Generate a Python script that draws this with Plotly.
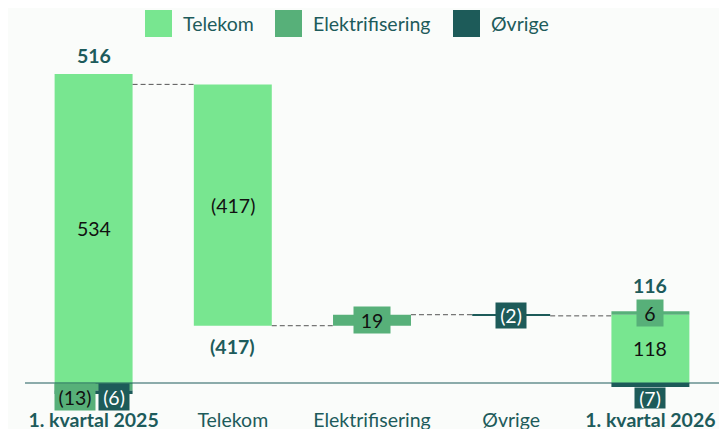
import plotly.graph_objects as go

# ---------------- data ----------------
categories = ["1. kvartal 2025", "Telekom", "Elektrifisering", "Øvrige", "1. kvartal 2026"]
segments = ["Telekom", "Elektrifisering", "Øvrige"]
start_values = [534, -13, -6]      # 1. kvartal 2025 per segment
change_values = [-417, 19, -2]     # bridge changes per segment
end_values = [118, 6, -7]          # 1. kvartal 2026 per segment
start_total = 516
end_total = 116

# ---------------- style ----------------
seg_colors = {"Telekom": "#78e690", "Elektrifisering": "#57b079", "Øvrige": "#1d5b59"}
label_font_color = {"Telekom": "#111111", "Elektrifisering": "#111111", "Øvrige": "#ffffff"}
teal = "#1d5b5b"
bg = "#fafcfa"
FONT = "Lato"
FS = 19.5

OFF = 8  # page body margin
W, H = 727 - OFF, 429 - OFF
ML, MR, MT, MB = 16, 7, 32, 23
PW, PH = W - ML - MR, H - MT - MB
ZERO_PX = 383 - OFF
SCALE = 0.5787  # px per unit
ymax = (ZERO_PX - MT) / SCALE
ymin = -(H - MB - ZERO_PX) / SCALE
BW = 0.56


def fmt(v):
    return f"({abs(v)})" if v < 0 else f"{v}"


def px_x(p):  # reference screen px -> paper
    return (p - OFF - ML) / PW


def px_y(p):
    return (H - MB - (p - OFF)) / PH


fig = go.Figure()
annotations = []
shapes = []

bars = {s: {"x": [], "y": [], "base": []} for s in segments}


def stacked(cat_idx, values):
    pos, neg = 0, 0
    for s, v in zip(segments, values):
        if v >= 0:
            b = pos
            pos += v
        else:
            b = neg
            neg += v
        bars[s]["x"].append(categories[cat_idx])
        bars[s]["y"].append(v)
        bars[s]["base"].append(b)


stacked(0, start_values)

levels = [start_total]
bridge = []
for i, (s, v) in enumerate(zip(segments, change_values)):
    b = levels[-1]
    bars[s]["x"].append(categories[i + 1])
    bars[s]["y"].append(v)
    bars[s]["base"].append(b)
    bridge.append((i + 1, s, v, b))
    levels.append(b + v)

stacked(4, end_values)

for s in segments:
    fig.add_trace(go.Bar(
        x=bars[s]["x"], y=bars[s]["y"], base=bars[s]["base"], name=s,
        marker=dict(color=seg_colors[s], line=dict(width=0)),
        width=BW, showlegend=False, hoverinfo="skip",
    ))

box_sizes = {"19": (36, 26), "(2)": (30, 25), "6": (26, 26), "(7)": (30, 20),
             "(13)": (40, 26), "(6)": (30, 26)}


def box_label(x, y, s, v, yanchor="middle", xshift=0):
    t = fmt(v)
    w, h = box_sizes.get(t, (10 * len(t) + 10, 26))
    annotations.append(dict(
        x=x, y=y, text=t, showarrow=False, xanchor="center", yanchor=yanchor,
        xshift=xshift, bgcolor=seg_colors[s], width=w, height=h, borderpad=0,
        font=dict(family=FONT, size=FS, color=label_font_color[s]),
    ))


def plain_label(x, y, v):
    annotations.append(dict(
        x=x, y=y, text=fmt(v), showarrow=False, xanchor="center", yanchor="middle",
        font=dict(family=FONT, size=FS, color="#111111"),
    ))


# start column labels
plain_label(0, start_values[0] / 2, start_values[0])
box_label(0, 0, "Elektrifisering", start_values[1], yanchor="top", xshift=-19)
box_label(0, 0, "Øvrige", start_values[2], yanchor="top", xshift=20)
annotations.append(dict(x=0, y=start_values[0], text=f"<b>{start_total}</b>", showarrow=False,
                        yanchor="bottom", yshift=5,
                        font=dict(family=FONT, size=FS, color=teal)))

# bridge labels
for idx, s, v, b in bridge:
    if s == "Telekom":
        plain_label(idx, b + v / 2, v)
        annotations.append(dict(x=idx, y=b + v, text=f"<b>{fmt(v)}</b>", showarrow=False,
                                yanchor="top", yshift=-7,
                                font=dict(family=FONT, size=FS, color=teal)))
    else:
        box_label(idx, b + v / 2, s, v)

# end column labels
plain_label(4, end_values[0] / 2, end_values[0])
box_label(4, end_values[0] + end_values[1] / 2, "Elektrifisering", end_values[1])
box_label(4, end_values[2], "Øvrige", end_values[2], yanchor="top")
annotations.append(dict(x=4, y=end_values[0] + end_values[1], text=f"<b>{end_total}</b>",
                        showarrow=False, yanchor="bottom", yshift=12,
                        font=dict(family=FONT, size=FS, color=teal)))

# dashed connectors
for i, lv in enumerate(levels):
    shapes.append(dict(type="line", xref="x", yref="y",
                       x0=i + BW / 2, x1=i + 1 - BW / 2, y0=lv, y1=lv,
                       line=dict(color="#555555", width=1, dash="5px,3px")))

# zero line
shapes.append(dict(type="line", xref="paper", yref="y", x0=px_x(25), x1=px_x(727), y0=0, y1=0,
                   line=dict(color=teal, width=1), layer="above"))

# manual legend
legend_items = [("Telekom", 145), ("Elektrifisering", 275), ("Øvrige", 453)]
for s, x0 in legend_items:
    shapes.append(dict(type="rect", xref="paper", yref="paper",
                       x0=px_x(x0), x1=px_x(x0 + 27), y0=px_y(37), y1=px_y(10),
                       fillcolor=seg_colors[s], line=dict(width=0)))
    annotations.append(dict(xref="paper", yref="paper", x=px_x(x0 + 36), y=px_y(23.5),
                            text=s, showarrow=False, xanchor="left", yanchor="middle",
                            font=dict(family=FONT, size=FS, color=teal)))

ticktext = [f"<b>{c}</b>" if c.startswith("1.") else c for c in categories]

fig.update_layout(
    width=W, height=H,
    margin=dict(l=ML, r=MR, t=MT, b=MB, pad=0, autoexpand=False),
    paper_bgcolor=bg, plot_bgcolor=bg,
    barmode="overlay",
    showlegend=False,
    annotations=annotations,
    shapes=shapes,
    font=dict(family=FONT, size=FS, color=teal),
    xaxis=dict(type="category", categoryorder="array", categoryarray=categories,
               tickvals=categories, ticktext=ticktext, showgrid=False, zeroline=False,
               showline=False, ticks="", range=[-0.5, 4.5], automargin=False,
               tickfont=dict(family=FONT, size=FS, color=teal)),
    yaxis=dict(range=[ymin, ymax], visible=False, showgrid=False, zeroline=False,
               automargin=False),
)

fig.write_html("out.html")
